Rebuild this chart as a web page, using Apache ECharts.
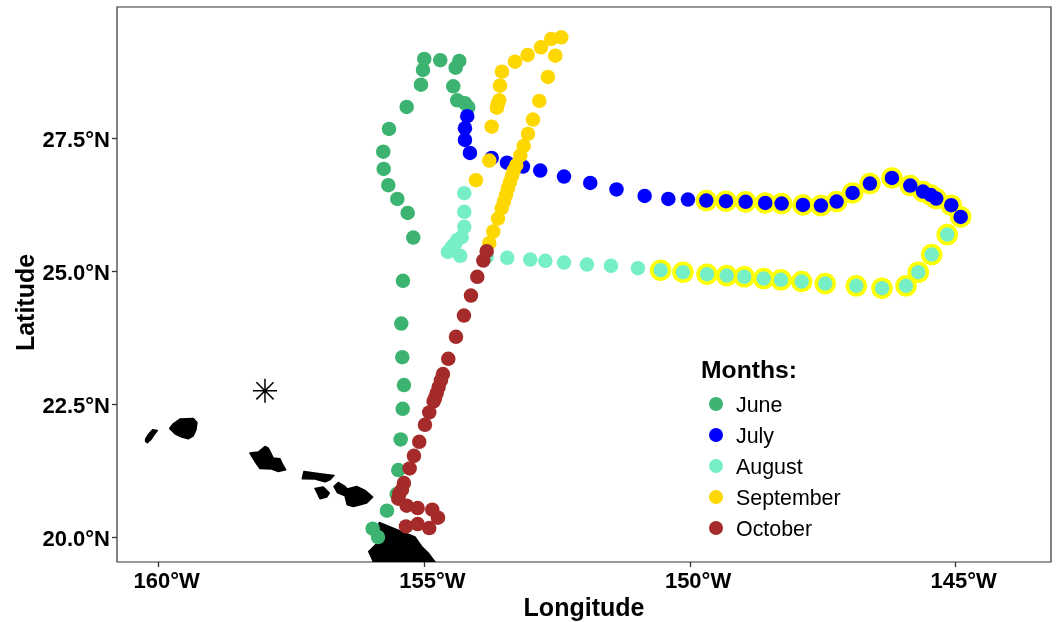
<!DOCTYPE html>
<html>
<head>
<meta charset="utf-8">
<script src="https://cdn.jsdelivr.net/npm/echarts@6/dist/echarts.min.js"></script>
<style>html,body{margin:0;padding:0;background:#fff}#c{width:1057px;height:622px}</style>
</head>
<body>
<div id="c"></div>
<script>
const monthNames = ['June','July','August','September','October'];
const monthColors = ['#3CB371','#0000FF','#76EEC6','#FFD700','#A52A2A'];
const xTicks = [-160,-155,-150,-145];
const xTickLabels = ['160°W','155°W','150°W','145°W'];
const yTicks = [20,22.5,25,27.5];
const yTickLabels = ['20.0°N','22.5°N','25.0°N','27.5°N'];
const june = [[-155.873,20.00],[-155.973,20.156],[-155.704,20.494],[-155.521,20.808],[-155.491,21.259],[-155.446,21.835],[-155.408,22.412],[-155.384,22.857],[-155.416,23.383],[-155.435,24.015],[-155.403,24.818],[-155.209,25.632],[-155.314,26.096],[-155.509,26.359],[-155.679,26.617],[-155.766,26.923],[-155.774,27.248],[-155.666,27.675],[-155.333,28.088],[-155.064,28.507],[-155.026,28.784],[-155.002,28.991],[-154.701,28.967],[-154.343,28.953],[-154.411,28.827],[-154.456,28.477],[-154.381,28.214],[-154.236,28.158],[-154.174,28.083]];
const july = [[-154.193,27.914],[-154.236,27.688],[-154.236,27.468],[-154.142,27.224],[-153.733,27.130],[-153.445,27.041],[-153.144,26.966],[-152.819,26.891],[-152.372,26.778],[-151.878,26.660],[-151.384,26.538],[-150.854,26.415],[-150.409,26.359],[-150.039,26.346],[-149.694,26.327],[-149.323,26.316],[-148.953,26.303],[-148.584,26.284],[-148.276,26.271],[-147.875,26.246],[-147.536,26.233],[-147.241,26.308],[-146.940,26.472],[-146.614,26.647],[-146.200,26.754],[-145.855,26.609],[-145.616,26.496],[-145.471,26.434],[-145.366,26.365],[-145.083,26.240],[-144.906,26.020]];
const august = [[-154.249,26.466],[-154.249,26.115],[-154.249,25.833],[-154.298,25.639],[-154.381,25.588],[-154.424,25.513],[-154.481,25.457],[-154.556,25.363],[-154.324,25.288],[-153.827,25.269],[-153.440,25.250],[-153.007,25.218],[-152.724,25.194],[-152.372,25.162],[-151.940,25.124],[-151.488,25.100],[-150.980,25.056],[-150.552,25.019],[-150.133,24.981],[-149.681,24.944],[-149.310,24.917],[-148.979,24.893],[-148.614,24.861],[-148.288,24.836],[-147.899,24.805],[-147.455,24.767],[-146.871,24.724],[-146.387,24.680],[-145.935,24.724],[-145.704,24.981],[-145.452,25.312],[-145.159,25.688]];
const september = [[-153.778,25.526],[-153.703,25.744],[-153.615,25.989],[-153.545,26.184],[-153.502,26.308],[-153.464,26.434],[-153.427,26.560],[-153.389,26.673],[-153.351,26.791],[-153.319,26.891],[-153.270,26.992],[-153.195,27.173],[-153.131,27.355],[-153.050,27.581],[-152.956,27.850],[-152.837,28.201],[-152.674,28.652],[-152.536,29.053],[-152.423,29.398],[-152.612,29.367],[-152.805,29.211],[-153.056,29.066],[-153.295,28.940],[-153.539,28.752],[-153.577,28.489],[-153.590,28.214],[-153.620,28.145],[-153.634,28.075],[-153.733,27.718],[-153.778,27.079],[-154.029,26.711]];
const october = [[-153.827,25.376],[-153.891,25.199],[-154.004,24.893],[-154.123,24.541],[-154.255,24.165],[-154.405,23.765],[-154.550,23.351],[-154.650,23.064],[-154.688,22.944],[-154.731,22.820],[-154.768,22.707],[-154.800,22.613],[-154.825,22.549],[-154.908,22.342],[-154.989,22.111],[-155.096,21.791],[-155.196,21.528],[-155.277,21.289],[-155.384,21.015],[-155.422,20.889],[-155.472,20.814],[-155.491,20.720],[-155.333,20.588],[-155.126,20.545],[-154.851,20.513],[-154.744,20.363],[-154.908,20.169],[-155.126,20.244],[-155.346,20.199]];
const niihau = [[-160.246,21.842],[-160.197,21.923],[-160.114,22.017],[-160.027,22.004],[-160.089,21.923],[-160.152,21.829],[-160.215,21.773],[-160.246,21.797]];
const kauai = [[-159.794,22.041],[-159.726,22.130],[-159.600,22.218],[-159.350,22.229],[-159.280,22.154],[-159.299,22.017],[-159.350,21.904],[-159.444,21.848],[-159.568,21.880],[-159.694,21.942]];
const oahu = [[-158.283,21.579],[-158.126,21.598],[-158.000,21.703],[-157.938,21.673],[-157.844,21.485],[-157.718,21.472],[-157.667,21.359],[-157.611,21.265],[-157.750,21.233],[-157.874,21.278],[-158.094,21.289],[-158.188,21.421]];
const molokai = [[-157.266,21.233],[-156.965,21.190],[-156.702,21.158],[-156.777,21.077],[-156.871,21.039],[-157.059,21.090],[-157.298,21.096]];
const lanai = [[-157.059,20.914],[-156.903,20.940],[-156.790,20.827],[-156.839,20.752],[-156.965,20.720],[-157.016,20.827]];
const maui = [[-156.702,20.951],[-156.621,21.026],[-156.494,20.951],[-156.451,20.902],[-156.274,20.951],[-156.118,20.876],[-155.973,20.752],[-156.086,20.639],[-156.338,20.575],[-156.451,20.607],[-156.494,20.776],[-156.639,20.838]];
const hawaii = [[-155.849,20.274],[-155.516,20.137],[-155.177,20.000],[-155.051,19.823],[-154.927,19.699],[-154.800,19.530],[-154.744,19.291],[-155.930,19.291],[-155.962,19.541],[-156.048,19.729],[-155.898,19.874],[-155.873,20.100]];
const station = [[-158,22.75]];
const ringed = july.slice(14).concat(august.slice(17));

const font = '"Liberation Sans", Arial, Helvetica, sans-serif';
const islands = [niihau,kauai,oahu,molokai,lanai,maui,hawaii];
const months = [june,july,august,september,october];
const chart = echarts.init(document.getElementById('c'), null, {renderer:'canvas'});
chart.setOption({
  animation:false,
  backgroundColor:'#fff',
  textStyle:{fontFamily:font,color:'#000'},
  grid:{left:117,right:6,top:7,bottom:60,show:true,borderColor:'#333',borderWidth:1.2,containLabel:false,outerBoundsMode:'none'},
  title:{text:'Months:',left:701,top:359,padding:0,textStyle:{fontFamily:font,fontSize:24.7,fontWeight:'bold',color:'#000'}},
  legend:{
    data:monthNames,orient:'vertical',left:709,top:391,padding:0,
    itemWidth:14,itemHeight:14,itemGap:5,icon:'circle',selectedMode:false,
    formatter:'{a|{name}}',
    textStyle:{fontFamily:font,fontSize:21.4,color:'#000',padding:[0,0,0,8],
      rich:{a:{fontFamily:font,fontSize:21.4,color:'#000',lineHeight:21,padding:[5,0,0,0]}}}
  },
  xAxis:{
    type:'value',min:-160.785,max:-143.206,
    name:'Longitude',nameLocation:'middle',nameGap:35,nameMoveOverlap:false,
    nameTextStyle:{fontFamily:font,fontSize:25,fontWeight:'bold',color:'#000'},
    axisLine:{show:false},splitLine:{show:false},
    axisTick:{show:true,length:5,customValues:xTicks,lineStyle:{color:'#333',width:1.3}},
    axisLabel:{show:true,customValues:xTicks,margin:9,padding:[0,0,0,16],
      fontFamily:font,fontSize:22,fontWeight:'bold',color:'#000',
      formatter:v=>xTickLabels[xTicks.indexOf(v)]}
  },
  yAxis:{
    type:'value',min:19.53,max:29.968,
    name:'Latitude',nameLocation:'middle',nameGap:77,nameMoveOverlap:false,
    nameTextStyle:{fontFamily:font,fontSize:25,fontWeight:'bold',color:'#000',padding:[0,36,0,0]},
    axisLine:{show:false},splitLine:{show:false},
    axisTick:{show:true,length:5,customValues:yTicks,lineStyle:{color:'#333',width:1.3}},
    axisLabel:{show:true,customValues:yTicks,margin:7,verticalAlign:'top',lineHeight:5,
      fontFamily:font,fontSize:22,fontWeight:'bold',color:'#000',
      formatter:v=>yTickLabels[yTicks.indexOf(v)]}
  },
  series:[
    {type:'custom',name:'Islands',clip:true,silent:true,z:1,
      data:islands.map((p,i)=>[p[0][0],p[0][1],i]),
      encode:{x:0,y:1},
      renderItem:(params,api)=>({
        type:'polygon',
        shape:{points:islands[api.value(2)].map(c=>api.coord(c))},
        style:{fill:'#000',stroke:'#000',lineWidth:1.5,lineJoin:'round'}
      })},
    {type:'scatter',name:'Station',data:station,z:2,silent:true,symbolSize:24,
      symbol:'path://M0 -12V12M-12 0H12M-8.6 -8.6L8.6 8.6M-8.6 8.6L8.6 -8.6',
      itemStyle:{color:'none',borderColor:'#000',borderWidth:1.5,opacity:1}},
    {type:'scatter',name:'Highlighted',data:ringed,z:3,silent:true,symbol:'circle',symbolSize:21.5,
      itemStyle:{color:'#FFFF00',opacity:1}},
    ...months.map((d,i)=>({
      type:'scatter',name:monthNames[i],data:d,z:4,silent:true,symbol:'circle',symbolSize:14.5,
      itemStyle:{color:monthColors[i],opacity:1}
    }))
  ]
});
</script>
</body>
</html>
